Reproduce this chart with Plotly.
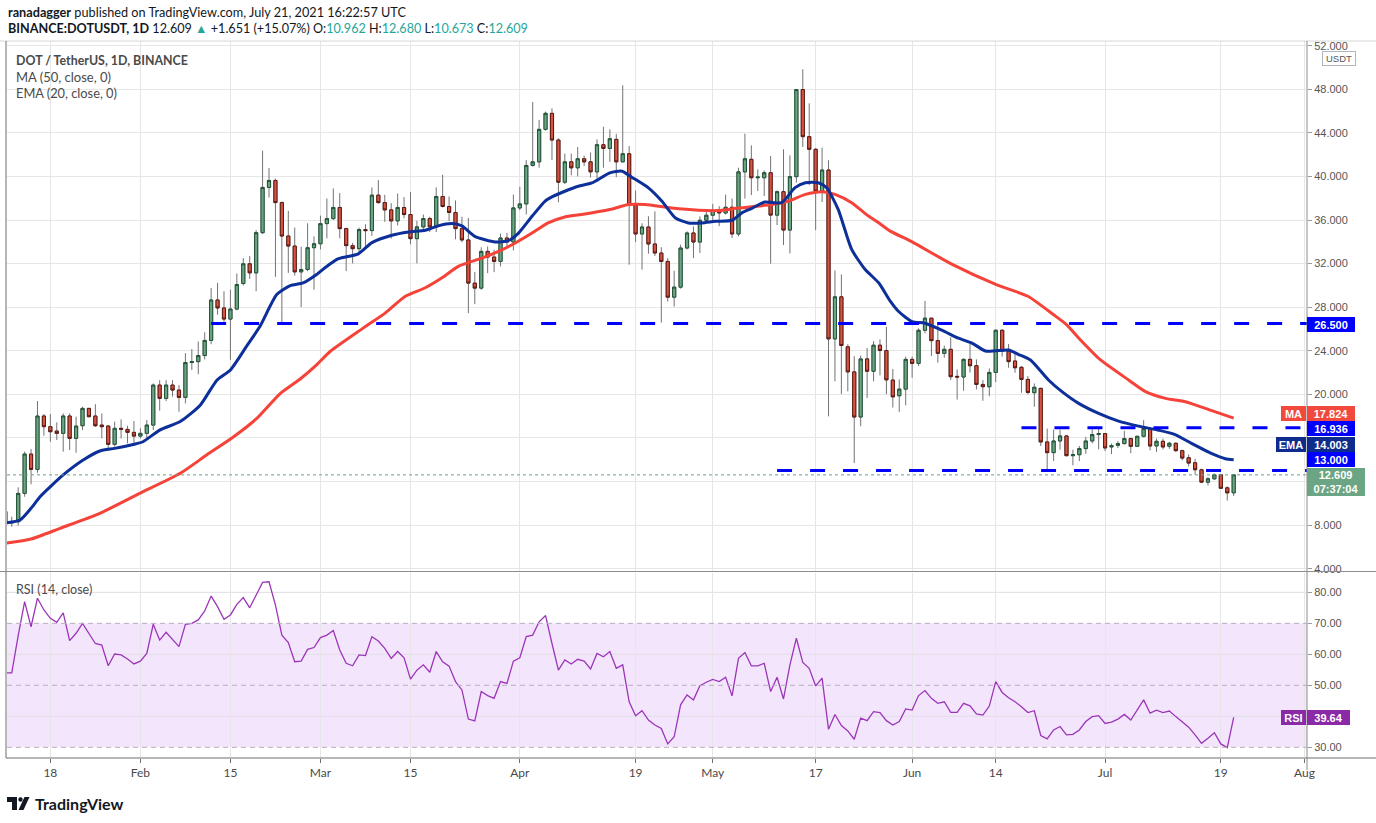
import plotly.graph_objects as go
import pandas as pd
import numpy as np

# ---------------- data ----------------
start_date = "2021-01-11"

open_ = [
    9.25, 8.20, 8.31, 10.91, 14.52, 13.11, 18.01, 17.03, 16.63, 16.42,
    18.01, 15.96, 17.12, 18.71, 18.01, 17.18, 17.09, 15.41, 16.88, 16.78,
    16.51, 16.17, 16.42, 17.18, 20.85, 19.63, 20.85, 20.39, 19.72, 22.92,
    23.00, 23.56, 24.95, 28.66, 27.93, 26.91, 27.83, 30.17, 31.98, 31.15,
    34.84, 38.99, 39.63, 37.60, 34.53, 33.61, 31.24, 31.46, 33.46, 33.82,
    35.67, 36.13, 37.15, 35.21, 33.65, 33.37, 35.12, 35.03, 38.28, 37.60,
    36.93, 35.92, 37.15, 36.50, 34.29, 35.37, 36.13, 35.37, 38.16, 37.24,
    36.69, 35.21, 34.17, 30.21, 29.75, 33.12, 32.60, 32.20, 34.35, 33.98,
    37.11, 37.48, 41.01, 41.34, 44.32, 45.79, 43.34, 39.47, 41.34, 40.79,
    41.62, 41.34, 40.42, 42.91, 42.57, 43.40, 41.34, 42.08, 37.36, 34.72,
    35.36, 33.80, 32.97, 32.20, 28.92, 29.84, 33.43, 34.81, 33.98, 35.98,
    36.44, 36.96, 36.65, 37.17, 34.72, 40.42, 41.57, 39.88, 39.88, 40.34,
    36.45, 38.60, 35.08, 39.98, 47.97, 43.65, 42.49, 38.66, 40.59, 25.09,
    28.95, 24.36, 22.06, 17.92, 23.25, 22.12, 24.51, 24.02, 21.31, 19.87,
    20.48, 23.21, 22.84, 25.88, 26.99, 24.93, 23.76, 24.13, 21.65, 21.59,
    23.21, 22.63, 20.91, 20.70, 22.01, 25.88, 23.98, 23.06, 22.48, 21.37,
    20.15, 20.55, 15.63, 14.65, 15.72, 16.18, 14.37, 14.46, 15.02, 15.72,
    16.31, 16.40, 15.17, 15.32, 15.48, 15.94, 15.23, 16.15, 16.86, 15.26,
    15.69, 15.23, 15.51, 14.83, 14.18, 13.72, 13.08, 11.94, 12.25, 12.62,
    11.42, 10.962,
]
high = [
    9.60, 8.77, 11.46, 14.74, 14.98, 19.38, 18.20, 18.19, 17.43, 18.25,
    18.25, 17.95, 18.86, 18.75, 19.10, 18.25, 17.18, 17.49, 17.70, 17.12,
    17.55, 16.88, 17.64, 21.00, 21.30, 21.30, 21.30, 20.85, 23.78, 24.15,
    24.85, 25.70, 29.77, 30.23, 29.46, 29.60, 31.09, 32.50, 32.69, 35.08,
    42.37, 40.77, 39.80, 37.70, 36.84, 35.30, 33.55, 35.70, 34.50, 36.40,
    37.97, 38.90, 38.47, 35.30, 33.90, 35.30, 35.61, 38.99, 39.66, 38.31,
    37.55, 38.43, 38.10, 38.56, 35.92, 36.50, 36.30, 38.99, 40.15, 38.16,
    37.80, 36.30, 36.19, 31.22, 33.50, 33.58, 33.27, 34.75, 34.81, 38.34,
    39.04, 41.50, 46.83, 45.18, 45.95, 46.25, 43.50, 42.10, 42.10, 42.70,
    41.90, 42.20, 43.40, 44.56, 44.32, 43.90, 48.37, 42.79, 38.71, 35.70,
    36.34, 36.80, 33.50, 32.50, 31.34, 33.74, 34.96, 35.42, 36.34, 36.80,
    37.48, 37.27, 38.34, 37.97, 40.80, 43.92, 42.85, 40.65, 40.55, 41.87,
    38.72, 42.49, 41.94, 48.00, 49.84, 46.71, 42.60, 42.64, 41.48, 31.37,
    31.00, 24.60, 23.50, 23.56, 24.26, 24.88, 25.04, 26.20, 22.32, 21.37,
    23.46, 23.46, 26.06, 28.58, 27.00, 26.37, 24.47, 25.24, 22.29, 23.30,
    24.62, 23.21, 21.31, 22.38, 25.97, 25.97, 24.62, 23.90, 22.60, 21.68,
    21.00, 20.60, 16.86, 16.77, 16.77, 16.25, 14.92, 15.26, 16.10, 16.95,
    16.95, 16.45, 15.48, 15.72, 16.65, 16.03, 16.15, 17.63, 16.92, 15.94,
    15.94, 15.63, 15.57, 14.92, 14.49, 14.09, 13.17, 12.40, 12.74, 12.65,
    11.54, 12.680,
]
low = [
    7.90, 7.85, 7.95, 10.60, 11.74, 12.80, 16.20, 15.65, 15.80, 14.74,
    14.89, 14.64, 16.72, 17.90, 17.00, 15.96, 14.98, 15.20, 15.96, 15.50,
    15.50, 15.96, 15.96, 16.72, 18.50, 19.38, 19.80, 18.40, 19.17, 22.24,
    21.84, 23.20, 24.60, 27.31, 26.39, 23.17, 27.70, 30.00, 30.60, 29.46,
    34.70, 38.06, 30.78, 26.45, 31.15, 30.90, 28.02, 31.30, 29.60, 33.30,
    34.32, 36.00, 34.32, 31.31, 32.02, 33.00, 33.37, 34.54, 37.50, 35.83,
    34.29, 35.50, 36.16, 33.77, 32.02, 34.90, 34.90, 34.90, 37.15, 35.92,
    34.23, 33.95, 27.45, 28.28, 29.60, 31.13, 31.22, 31.75, 33.58, 33.21,
    36.90, 36.50, 40.90, 40.80, 44.20, 41.50, 37.63, 39.30, 40.10, 40.00,
    40.96, 39.90, 39.80, 40.80, 41.34, 39.93, 41.30, 31.90, 33.98, 31.44,
    32.91, 32.70, 26.59, 28.52, 28.06, 29.70, 33.30, 32.51, 32.97, 35.90,
    35.90, 35.43, 36.50, 34.35, 34.50, 37.97, 38.29, 38.66, 38.20, 32.00,
    35.53, 33.70, 32.93, 39.43, 42.70, 39.20, 35.07, 37.65, 17.98, 21.20,
    20.04, 20.28, 13.70, 17.07, 19.67, 21.20, 21.74, 20.02, 18.79, 18.39,
    19.00, 21.52, 22.60, 25.60, 23.52, 22.90, 23.36, 21.31, 19.53, 20.33,
    22.00, 20.45, 19.41, 19.83, 21.12, 23.46, 22.44, 21.98, 20.14, 20.00,
    18.86, 15.26, 12.95, 13.88, 14.92, 14.31, 13.48, 13.88, 14.55, 15.50,
    14.95, 14.80, 14.52, 15.08, 15.40, 14.60, 15.20, 16.03, 14.86, 14.72,
    14.95, 15.00, 14.72, 13.94, 13.38, 12.65, 11.85, 11.63, 12.15, 11.32,
    10.25, 10.673,
]
close = [
    8.20, 8.30, 10.91, 14.52, 13.11, 18.01, 17.03, 16.57, 16.42, 18.01,
    15.96, 17.09, 18.71, 17.95, 17.12, 17.03, 15.41, 16.88, 16.80, 16.51,
    16.17, 16.42, 17.18, 20.85, 19.63, 20.85, 20.39, 19.72, 22.92, 23.00,
    23.56, 24.95, 28.66, 27.93, 26.91, 27.83, 30.08, 31.98, 31.15, 34.84,
    38.99, 39.63, 37.60, 34.53, 33.61, 31.24, 31.46, 33.46, 33.82, 35.67,
    36.13, 37.15, 35.21, 33.65, 33.37, 35.12, 35.03, 38.28, 37.60, 36.93,
    35.92, 37.15, 36.50, 34.29, 35.37, 36.13, 35.37, 38.16, 37.24, 36.69,
    35.21, 34.17, 30.21, 29.75, 33.12, 32.60, 32.20, 34.35, 33.98, 37.11,
    37.48, 41.01, 41.34, 44.32, 45.79, 43.34, 39.47, 41.34, 40.79, 41.62,
    41.34, 40.42, 42.91, 42.57, 43.46, 41.34, 42.08, 37.36, 34.72, 35.36,
    33.80, 32.97, 32.20, 28.92, 29.84, 33.43, 34.81, 33.98, 35.98, 36.44,
    36.90, 36.65, 37.17, 34.72, 40.42, 41.62, 39.88, 39.94, 40.34, 36.45,
    38.60, 35.08, 39.98, 47.97, 43.65, 42.49, 38.66, 40.59, 25.09, 28.95,
    24.48, 22.06, 17.92, 23.25, 22.12, 24.51, 24.02, 21.33, 19.77, 20.48,
    23.21, 22.84, 25.88, 26.99, 24.93, 23.76, 24.13, 21.62, 21.59, 23.21,
    22.63, 20.91, 20.70, 22.01, 25.88, 23.98, 23.00, 22.44, 21.37, 20.17,
    20.65, 15.63, 14.65, 15.72, 16.18, 14.37, 14.46, 15.02, 15.72, 16.31,
    16.40, 15.08, 15.29, 15.48, 15.94, 15.23, 16.15, 16.86, 15.26, 15.69,
    15.17, 15.51, 14.83, 14.15, 13.69, 13.08, 11.94, 12.25, 12.62, 11.38,
    10.958, 12.609,
]
rsi = [
    54.0, 54.0, 66.0, 77.0, 68.9, 78.1, 74.3, 71.6, 70.3, 73.4,
    64.4, 66.8, 70.0, 66.8, 63.5, 63.0, 56.3, 60.1, 59.8, 58.5,
    56.9, 57.8, 60.3, 69.7, 64.6, 67.1, 64.9, 62.5, 69.7, 70.0,
    71.1, 74.0, 78.8, 75.4, 71.3, 72.7, 76.1, 78.3, 75.0, 79.1,
    83.2, 83.4, 75.9, 66.2, 63.8, 57.6, 57.8, 61.6, 62.2, 65.4,
    66.2, 67.7, 61.4, 57.1, 56.3, 59.8, 59.6, 65.7, 64.3, 61.9,
    58.7, 60.9, 58.9, 52.0, 54.9, 56.6, 54.2, 60.9, 57.6, 56.2,
    51.2, 48.5, 39.1, 38.5, 48.0, 46.7, 45.8, 51.2, 50.6, 57.8,
    58.9, 65.7, 66.2, 70.5, 72.5, 63.5, 54.9, 58.2, 56.9, 58.4,
    57.8, 55.3, 60.3, 59.2, 60.9, 55.5, 56.6, 44.7, 40.2, 41.8,
    38.8, 37.2, 36.1, 31.1, 33.4, 43.7, 46.9, 45.3, 49.9, 51.0,
    51.9, 51.2, 52.6, 46.6, 58.7, 60.6, 56.3, 56.3, 57.1, 48.0,
    52.6, 45.6, 56.6, 65.2, 57.4, 55.5, 49.8, 52.3, 35.8, 40.6,
    37.0, 35.3, 32.6, 39.4, 38.6, 41.5, 41.2, 38.6, 37.2, 38.3,
    42.4, 42.0, 46.7, 48.3, 45.8, 44.2, 44.7, 41.3, 41.3, 44.2,
    43.4, 40.8, 40.4, 43.3, 51.2, 47.7, 46.0, 44.7, 43.1, 41.2,
    41.8, 33.8, 32.7, 35.6, 36.7, 34.0, 34.2, 35.6, 38.3, 39.9,
    40.2, 37.7, 38.1, 39.1, 40.6, 38.8, 42.0, 45.3, 41.0, 42.0,
    41.2, 41.7, 39.9, 38.1, 36.5, 34.0, 31.3, 32.9, 34.7, 31.1,
    29.9, 39.64,
]

# MA(50) and EMA(20) read at sample days (days after the first candle)
ma_day = [0, 4, 8.5, 14.7, 20.9, 27.2, 31.3, 35.5, 39.1, 42.7, 45.8, 48.4, 50.5,
          55.7, 59.1, 62.2, 65.3, 67.9, 70.5, 74.1, 76.7, 79.3, 81.9, 84.4, 87,
          89.6, 94, 96.9, 99.5, 103.6, 107.8, 110.9, 114, 119.2, 121.8, 124.4,
          127, 129, 131.6, 134.2, 135.8, 137.6, 141, 147, 154, 159, 163, 165,
          167, 170.2, 174.7, 177.3, 180.4, 183.5, 187.6, 191]
ma_val = [6.33, 6.72, 7.70, 9.08, 10.91, 12.75, 14.43, 16.11, 17.79, 20.05, 21.38,
          22.70, 23.93, 26.10, 27.48, 29.00, 29.78, 30.70, 31.77, 32.50, 33.12,
          33.89, 34.80, 35.73, 36.28, 36.50, 36.96, 37.42, 37.42, 37.10, 36.90,
          36.87, 37.10, 37.43, 37.74, 38.35, 38.60, 38.35, 37.59, 36.36, 35.75,
          34.98, 34.00, 32.00, 30.10, 29.00, 27.30, 26.40, 25.10, 23.20, 21.30,
          20.25, 19.63, 19.32, 18.50, 17.824]
ema_day = [0, 2.3, 4, 5.4, 9, 12.1, 14.7, 17, 19.9, 21.4, 24, 27.2, 30.3, 32.9, 35,
           37.5, 39.6, 42.2, 44.3, 46.3, 48.4, 49.7, 51.8, 54.9, 57, 60.1, 62.7,
           65.3, 67.3, 69.4, 71, 73, 76.2, 78.2, 79.8, 81.9, 83.9, 85, 87, 89.1,
           91.2, 94, 95.9, 97.4, 100, 102.1, 104.2, 106.2, 108.3, 110.4, 113,
           114.5, 116, 118.1, 120.7, 122.8, 124.4, 126.4, 127.7, 129.5, 131.6,
           133.7, 135.8, 137.6, 138.9, 141, 143, 145.6, 148.2, 150.3, 152.4,
           153.9, 156, 157.5, 159.4, 162.2, 164.3, 166.9, 170, 173.1, 176.2,
           179.3, 181.9, 184.5, 187.6, 189.7, 191]
ema_val = [8.20, 8.47, 9.54, 10.60, 12.60, 13.97, 14.80, 15.04, 15.40, 15.65, 16.72,
           17.50, 19.00, 21.30, 22.24, 24.40, 26.24, 29.16, 29.98, 30.23, 31.00,
           31.62, 32.45, 32.90, 33.92, 34.60, 34.90, 35.06, 35.46, 35.67, 35.46,
           34.50, 33.98, 34.10, 34.80, 36.34, 37.72, 38.12, 38.64, 39.10, 39.40,
           40.33, 40.48, 39.93, 38.95, 37.72, 36.19, 35.73, 35.73, 35.88, 35.98,
           36.65, 37.05, 37.65, 37.59, 38.97, 39.42, 39.42, 38.97, 36.97, 33.30,
           31.46, 30.24, 28.55, 27.60, 26.68, 26.53, 25.90, 25.15, 24.70, 23.98,
           24.00, 24.07, 23.67, 23.15, 21.32, 20.25, 19.17, 18.25, 17.54, 17.08,
           16.71, 16.31, 15.48, 14.55, 14.09, 14.003]

# horizontal levels drawn by the author: (price, start date)
levels = [26.5, 16.936, 13.0]
level_starts = ["2021-02-12", "2021-06-18", "2021-05-11"]

x_tick_dates = ["2021-01-18", "2021-02-01", "2021-02-15", "2021-03-01", "2021-03-15",
                "2021-04-01", "2021-04-19", "2021-05-01", "2021-05-17", "2021-06-01",
                "2021-06-14", "2021-07-01", "2021-07-19", "2021-08-01"]
x_tick_text = ["18", "Feb", "15", "Mar", "15", "Apr", "19", "May", "17", "Jun",
               "14", "Jul", "19", "Aug"]
price_ticks = list(range(4, 53, 4))
price_hidden = [12, 16]          # covered by the price labels in the reference
rsi_ticks = [30, 40, 50, 60, 70, 80]
rsi_hidden = [40]

# ---------------- geometry ----------------
W, H = 1376, 823
ML, MR, MT, MB = 7, 69, 41, 65
PW = W - ML - MR
PH = H - MT - MB


def px(x):
    return (x - ML) / PW


def py(y):
    return (H - MB - y) / PH


UP, UP_B = "#6ba583", "#225437"
DN, DN_B = "#d75442", "#5b1a13"
WICK = "#737375"
MA_C = "#f5433a"
EMA_C = "#0c2f99"
RSI_C = "#9c35b8"
LEVEL_C = "#0000ff"
GRID = "#e6e6e6"
AXIS_LINE = "#8c8c8c"
TXT = "#131722"
GREY_TXT = "#555555"

t0 = pd.Timestamp(start_date)
dates = pd.date_range(start_date, periods=len(close), freq="D")
x_range = [t0 + pd.Timedelta(days=0.26), t0 + pd.Timedelta(days=202.4)]
ma_x = [t0 + pd.Timedelta(days=d) for d in ma_day]
ema_x = [t0 + pd.Timedelta(days=d) for d in ema_day]

o = np.array(open_)
c = np.array(close)
body_hi = np.maximum(o, c)
body_lo = np.minimum(o, c)

fig = go.Figure()

# wicks (grey)
fig.add_trace(go.Candlestick(
    x=dates, open=open_, high=high, low=low, close=close,
    increasing=dict(line=dict(color=WICK, width=1), fillcolor=UP),
    decreasing=dict(line=dict(color=WICK, width=1), fillcolor=DN),
    whiskerwidth=0, hoverinfo="skip", showlegend=False, xaxis="x", yaxis="y"))
# bodies with dark borders
fig.add_trace(go.Candlestick(
    x=dates, open=open_, high=body_hi, low=body_lo, close=close,
    increasing=dict(line=dict(color=UP_B, width=1), fillcolor=UP),
    decreasing=dict(line=dict(color=DN_B, width=1), fillcolor=DN),
    whiskerwidth=0, hoverinfo="skip", showlegend=False, xaxis="x", yaxis="y"))

fig.add_trace(go.Scatter(x=ma_x, y=ma_val, mode="lines",
                         line=dict(color=MA_C, width=3, shape="spline", smoothing=0.6),
                         hoverinfo="skip", showlegend=False, xaxis="x", yaxis="y"))
fig.add_trace(go.Scatter(x=ema_x, y=ema_val, mode="lines",
                         line=dict(color=EMA_C, width=3, shape="spline", smoothing=0.6),
                         hoverinfo="skip", showlegend=False, xaxis="x", yaxis="y"))

fig.add_trace(go.Scatter(x=dates, y=rsi, mode="lines",
                         line=dict(color=RSI_C, width=1.3),
                         hoverinfo="skip", showlegend=False, xaxis="x2", yaxis="y2"))

shapes = []
# RSI band
shapes.append(dict(type="rect", xref="paper", yref="y2", x0=0, x1=1, y0=30, y1=70,
                   fillcolor="#f3e6fc", line=dict(width=0), layer="below"))
for v in [40, 60, 80]:
    shapes.append(dict(type="line", xref="paper", yref="y2", x0=0, x1=1, y0=v, y1=v,
                       line=dict(color="#e2dde6", width=1), layer="below"))
for v in [30, 50, 70]:
    shapes.append(dict(type="line", xref="paper", yref="y2", x0=0, x1=1, y0=v, y1=v,
                       line=dict(color="#b9aec0", width=1, dash="5px,4px"), layer="above"))

# current price dotted line
shapes.append(dict(type="line", xref="paper", yref="y", x0=0, x1=1, y0=close[-1], y1=close[-1],
                   line=dict(color=UP, width=1, dash="dot"), layer="above"))

# author's horizontal levels
for lv, st in zip(levels, level_starts):
    shapes.append(dict(type="line", xref="x", yref="y", x0=st, x1=x_range[1], y0=lv, y1=lv,
                       line=dict(color=LEVEL_C, width=3, dash="15px,18px"), layer="above"))

# frame lines
frame = [
    (0, 41, W, 41, "#d6d6d6"),             # top
    (ML - 1, 41, ML - 1, 758, "#6e6e6e"),  # left
    (1307, 41, 1307, 770, AXIS_LINE),      # price axis
    (0, 571.5, W, 571.5, AXIS_LINE),       # pane separator
    (ML - 1, 758, W, 758, "#6e6e6e"),      # time axis
]
for x0, y0, x1, y1, col in frame:
    shapes.append(dict(type="line", xref="paper", yref="paper",
                       x0=px(x0), y0=py(y0), x1=px(x1), y1=py(y1),
                       line=dict(color=col, width=1), layer="above"))


def ppath(pts):
    return "M " + " L ".join(f"{px(a):.5f},{py(b):.5f}" for a, b in pts) + " Z"


# TradingView footer logo
shapes.append(dict(type="path", xref="paper", yref="paper",
                   path=ppath([(7, 797), (17, 797), (17, 810), (12, 810), (12, 802), (7, 802)]),
                   fillcolor=TXT, line=dict(width=0), layer="above"))
shapes.append(dict(type="circle", xref="paper", yref="paper",
                   x0=px(18.3), x1=px(22.7), y0=py(801.7), y1=py(797.3),
                   fillcolor=TXT, line=dict(width=0), layer="above"))
shapes.append(dict(type="path", xref="paper", yref="paper",
                   path=ppath([(24.5, 797), (29.5, 797), (23.5, 810), (18.5, 810)]),
                   fillcolor=TXT, line=dict(width=0), layer="above"))

annotations = []


def text(x, y, s, size=13, color=TXT, family="Lato", anchor="left"):
    annotations.append(dict(xref="paper", yref="paper", x=px(x), y=py(y), text=s,
                            showarrow=False, xanchor=anchor, yanchor="middle",
                            font=dict(size=size, color=color, family=family)))


def box(x_left, cy, w, h, s, bg, fg="white", size=11, border=None, bold=True):
    annotations.append(dict(xref="paper", yref="paper", x=px(x_left), y=py(cy),
                            text=(f"<b>{s}</b>" if bold else s), showarrow=False,
                            xanchor="left", yanchor="middle", width=w, height=h,
                            align="center", valign="middle", bgcolor=bg,
                            bordercolor=border or bg, borderwidth=1 if border else 0,
                            borderpad=0,
                            font=dict(size=size, color=fg, family="Liberation Sans")))


G = "#26a69a"
text(6, 12, "<b>ranadagger</b> published on TradingView.com, July 21, 2021 16:22:57 UTC", 12.7)
text(6, 29, "<b>BINANCE:DOTUSDT, 1D</b> 12.609 "
            f"<span style='color:{G}'>▲</span> +1.651 (+15.07%) "
            f"O:<span style='color:{G}'>10.962</span> H:<span style='color:{G}'>12.680</span> "
            f"L:<span style='color:{G}'>10.673</span> C:<span style='color:{G}'>12.609</span>", 12.6)
text(14, 61, "<b>DOT / TetherUS, 1D, BINANCE</b>", 12.4, "#4a4a4a")
text(14, 77, "MA (50, close, 0)", 13, "#4a4a4a")
text(14, 93, "EMA (20, close, 0)", 12.8, "#4a4a4a")
text(14, 589, "RSI (14, close)", 12.5, "#4a4a4a")
text(33, 803, "<b>TradingView</b>", 16, TXT)

# right-hand price labels
box(1322, 59, 32, 13, "USDT", "white", fg="#555555", size=9.5, border="#b2b5be", bold=False)
box(1307, 324.5, 48, 15, "26.500", LEVEL_C)
box(1281, 413.3, 25, 15, "MA", "#f2493c")
box(1307, 413.3, 48, 15, "17.824", "#f2493c")
box(1307, 428.5, 48, 15, "16.936", LEVEL_C)
box(1276, 444.0, 30, 15, "EMA", "#0d2c8c")
box(1307, 444.0, 48, 15, "14.003", "#0d2c8c")
box(1307, 459.5, 48, 15, "13.000", LEVEL_C)
box(1307, 482.0, 58, 28, "12.609</b><br><b>07:37:04", UP)
box(1281, 717.4, 25, 15, "RSI", "#8a2aa6")
box(1307, 717.4, 43, 15, "39.64", "#8a2aa6")

tick_font = dict(size=11, color=GREY_TXT, family="Liberation Sans")

fig.update_layout(
    width=W, height=H,
    margin=dict(l=ML, r=MR, t=MT, b=MB, pad=0),
    paper_bgcolor="white", plot_bgcolor="white",
    showlegend=False, boxmode="overlay",
    shapes=shapes, annotations=annotations,
    xaxis=dict(domain=[0, 1], anchor="y", type="date", range=x_range,
               tickvals=x_tick_dates, showticklabels=False, ticks="",
               showgrid=True, gridcolor=GRID, zeroline=False, showline=False,
               rangeslider=dict(visible=False), fixedrange=True),
    xaxis2=dict(domain=[0, 1], anchor="y2", type="date", range=x_range,
                tickvals=x_tick_dates, ticktext=x_tick_text, ticks="outside",
                ticklen=4, tickcolor="#6e6e6e",
                tickfont=dict(size=12, color="#4a4a4a", family="Lato"),
                showgrid=True, gridcolor=GRID, zeroline=False, showline=False,
                rangeslider=dict(visible=False)),
    yaxis=dict(domain=[(758 - 571.5) / PH, 1], anchor="x", side="right",
               range=[3.74, 52.43], tickvals=price_ticks,
               ticktext=["" if v in price_hidden else f"{v:.3f}" for v in price_ticks],
               ticks="outside", ticklen=4, tickcolor="#9a9a9a", tickfont=tick_font,
               showgrid=True, gridcolor=GRID, zeroline=False, showline=False),
    yaxis2=dict(domain=[0, (758 - 572.5) / PH], anchor="x2", side="right",
                range=[26.55, 86.4], tickvals=rsi_ticks,
                ticktext=["" if v in rsi_hidden else f"{v:.2f}" for v in rsi_ticks],
                ticks="outside", ticklen=4, tickcolor="#9a9a9a", tickfont=tick_font,
                showgrid=False, zeroline=False, showline=False),
)

fig.write_html("out.html", config={"displayModeBar": False},
               post_script="document.body.style.margin='0px';document.body.style.overflow='hidden';")
